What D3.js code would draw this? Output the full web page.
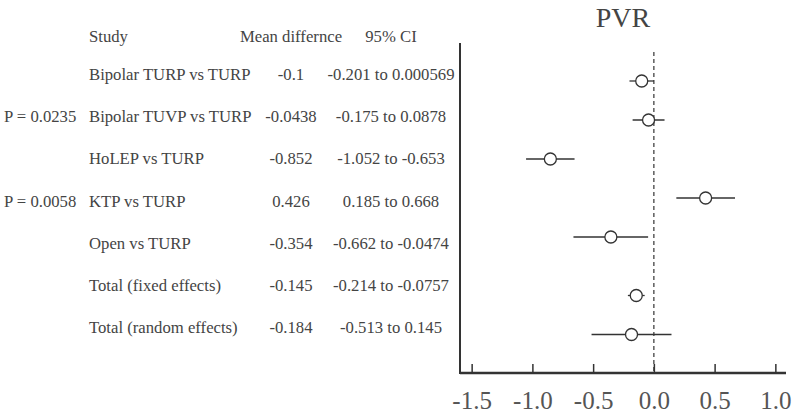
<!DOCTYPE html>
<html>
<head>
<meta charset="utf-8">
<script src="https://cdn.jsdelivr.net/npm/d3@7"></script>
<style>
  body { margin: 0; background: #fff; }
  svg { display: block; font-family: "Liberation Serif", "DejaVu Serif", serif; }
</style>
</head>
<body>
<svg id="chart" width="796" height="416"></svg>
<script>
// Forest plot data (PVR)
const studies = [
    "Bipolar TURP vs TURP",
    "Bipolar TUVP vs TURP",
    "HoLEP vs TURP",
    "KTP vs TURP",
    "Open vs TURP",
    "Total (fixed effects)",
    "Total (random effects)"
];
const pLabels = ["", "P = 0.0235", "", "P = 0.0058", "", "", ""];
const meanDiff = [-0.1, -0.0438, -0.852, 0.426, -0.354, -0.145, -0.184];
const ciLow = [-0.201, -0.175, -1.052, 0.185, -0.662, -0.214, -0.513];
const ciHigh = [0.000569, 0.0878, -0.653, 0.668, -0.0474, -0.0757, 0.145];
const headers = ["Study", "Mean differnce", "95% CI"];
const xTicks = [-1.5, -1.0, -0.5, 0.0, 0.5, 1.0];
const title = "PVR";

const rows = studies.map((s, i) => ({
    study: s,
    p: pLabels[i],
    mean: meanDiff[i],
    lo: ciLow[i],
    hi: ciHigh[i],
    // totals sit a half-row lower in the plot
    pos: i < 5 ? i : i + 0.5
}));

const svg = d3.select("#chart");
const textColor = "#444";
const lineColor = "#333";
const fontSize = 16.7;

// plot frame
const plotLeft = 460, plotRight = 786, plotTop = 43, plotBottom = 373;

const x = d3.scaleLinear()
    .domain([-1.6, 1.1])
    .range([459.5, 787.5]);

// point positions in the plot
const y = d3.scaleLinear()
    .domain([0, 6.5])
    .range([81, 334.5]);

// baselines of the table rows
const textY = d3.scaleLinear()
    .domain([0, 6])
    .range([80, 333]);

// Title
svg.append("text")
    .attr("x", 623)
    .attr("y", 27)
    .attr("text-anchor", "middle")
    .attr("font-size", 28)
    .attr("fill", textColor)
    .text(title);

// Table headers
const colX = [89, 291, 391];
const colAnchor = ["start", "middle", "middle"];
svg.selectAll(".header")
    .data(headers)
    .enter()
    .append("text")
    .attr("class", "header")
    .attr("x", (d, i) => colX[i])
    .attr("y", textY(-0.9))
    .attr("text-anchor", (d, i) => colAnchor[i])
    .attr("font-size", fontSize)
    .attr("fill", textColor)
    .text(d => d);

// Table rows
const table = svg.append("g");
const tr = table.selectAll(".row")
    .data(rows)
    .enter()
    .append("g")
    .attr("class", "row")
    .attr("transform", (d, i) => "translate(0," + textY(i) + ")")
    .attr("font-size", fontSize)
    .attr("fill", textColor);

tr.append("text")
    .attr("x", 4)
    .text(d => d.p);

tr.append("text")
    .attr("x", colX[0])
    .text(d => d.study);

tr.append("text")
    .attr("x", colX[1])
    .attr("text-anchor", "middle")
    .text(d => String(d.mean));

tr.append("text")
    .attr("x", colX[2])
    .attr("text-anchor", "middle")
    .text(d => String(d.lo) + " to " + String(d.hi));

// Zero reference line
svg.append("line")
    .attr("x1", x(0)).attr("x2", x(0))
    .attr("y1", 52).attr("y2", plotBottom)
    .attr("stroke", lineColor)
    .attr("stroke-width", 1.2)
    .attr("stroke-dasharray", "4,3");

// Left frame line
svg.append("line")
    .attr("x1", plotLeft).attr("x2", plotLeft)
    .attr("y1", plotTop).attr("y2", plotBottom + 1)
    .attr("stroke", lineColor)
    .attr("stroke-width", 2);

// Bottom axis
const xAxis = svg.append("g")
    .attr("transform", "translate(0," + plotBottom + ")")
    .call(d3.axisBottom(x)
        .tickValues(xTicks)
        .tickFormat(d => d.toFixed(1))
        .tickSizeInner(-9)
        .tickSizeOuter(0)
        .tickPadding(18));

xAxis.select(".domain")
    .attr("d", "M" + plotLeft + ",0H" + plotRight)
    .attr("stroke", lineColor)
    .attr("stroke-width", 2.5);
xAxis.selectAll(".tick line")
    .attr("stroke", lineColor)
    .attr("stroke-width", 1.5);
xAxis.selectAll(".tick text")
    .attr("font-family", "Liberation Serif, DejaVu Serif, serif")
    .attr("font-size", 25)
    .attr("fill", "#555");

// Confidence intervals
svg.selectAll(".ci")
    .data(rows)
    .enter()
    .append("line")
    .attr("class", "ci")
    .attr("x1", d => x(d.lo))
    .attr("x2", d => x(d.hi))
    .attr("y1", d => y(d.pos))
    .attr("y2", d => y(d.pos))
    .attr("stroke", lineColor)
    .attr("stroke-width", 1.3);

// Point estimates
svg.selectAll(".pt")
    .data(rows)
    .enter()
    .append("circle")
    .attr("class", "pt")
    .attr("cx", d => x(d.mean))
    .attr("cy", d => y(d.pos))
    .attr("r", 6)
    .attr("fill", "#fff")
    .attr("stroke", lineColor)
    .attr("stroke-width", 1.3);
</script>
</body>
</html>
